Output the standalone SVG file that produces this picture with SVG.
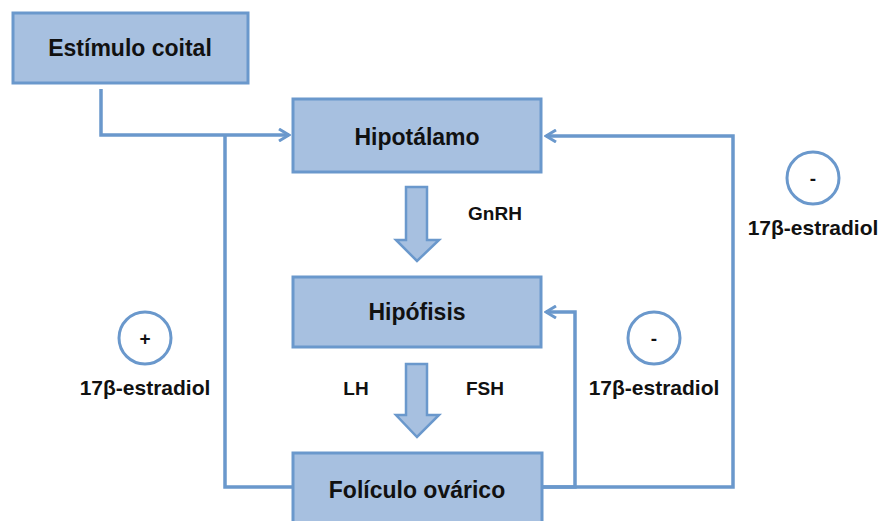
<svg xmlns="http://www.w3.org/2000/svg" width="880" height="521" viewBox="0 0 880 521">
<defs>
<style>
.box{fill:#A7C0E0;stroke:#6A98CC;stroke-width:3}
.line{fill:none;stroke:#6A98CC;stroke-width:3.5;stroke-linejoin:miter}
.big{font-family:"Liberation Sans",Arial,sans-serif;font-weight:bold;font-size:23px;fill:#111;text-anchor:middle}
.sm{font-family:"Liberation Sans",Arial,sans-serif;font-weight:bold;font-size:19px;fill:#111;text-anchor:middle}
.est{font-family:"Liberation Sans",Arial,sans-serif;font-weight:bold;font-size:21px;fill:#111;text-anchor:middle}
.circ{fill:#fff;stroke:#6A98CC;stroke-width:3}
.blk{fill:#A7C0E0;stroke:#6A98CC;stroke-width:2.5;stroke-linejoin:miter}
</style>
<marker id="arr" viewBox="0 0 14 14" refX="12" refY="7" markerWidth="14" markerHeight="14" markerUnits="userSpaceOnUse" orient="auto">
<polyline points="2,1 12,7 2,13" fill="none" stroke="#6A98CC" stroke-width="3"/>
</marker>
</defs>
<rect width="880" height="521" fill="#fff"/>
<g id="connectors">
<polyline class="line" points="101,89 101,135 289,135" marker-end="url(#arr)"/>
<polyline class="line" points="293,487 225,487 225,135"/>
<polyline class="line" points="542,487 733,487 733,136 546,136" marker-end="url(#arr)"/>
<polyline class="line" points="542,487 575,487 575,312 546,312" marker-end="url(#arr)"/>
</g>
<g id="estimulo">
<rect class="box" x="13" y="13" width="235" height="70"/>
<text class="big" x="130" y="56">Estímulo coital</text>
</g>
<g id="hipotalamo">
<rect class="box" x="293" y="99" width="248" height="73"/>
<text class="big" x="417" y="145">Hipotálamo</text>
</g>
<g id="hipofisis">
<rect class="box" x="293" y="277" width="248" height="70"/>
<text class="big" x="417" y="320">Hipófisis</text>
</g>
<g id="foliculo">
<rect class="box" x="293" y="453" width="249" height="72"/>
<text class="big" x="417" y="498">Folículo ovárico</text>
</g>
<g id="gnrh-arrow">
<polygon class="blk" points="406,187 427,187 427,240 439,240 417,261 396,240 406,240"/>
<text class="sm" x="495" y="220">GnRH</text>
</g>
<g id="lhfsh-arrow">
<polygon class="blk" points="406,364 427,364 427,415 439,415 417,437 396,415 406,415"/>
<text class="sm" x="356" y="395">LH</text>
<text class="sm" x="485" y="395">FSH</text>
</g>
<g id="plus-left">
<circle class="circ" cx="145" cy="338" r="26"/>
<text class="sm" x="145" y="345">+</text>
<text class="est" x="145" y="395">17β-estradiol</text>
</g>
<g id="minus-mid">
<circle class="circ" cx="654" cy="338" r="26"/>
<text class="sm" x="654" y="345">-</text>
<text class="est" x="654" y="395">17β-estradiol</text>
</g>
<g id="minus-top">
<circle class="circ" cx="813" cy="178" r="26"/>
<text class="sm" x="813" y="185">-</text>
<text class="est" x="813" y="235">17β-estradiol</text>
</g>
</svg>
